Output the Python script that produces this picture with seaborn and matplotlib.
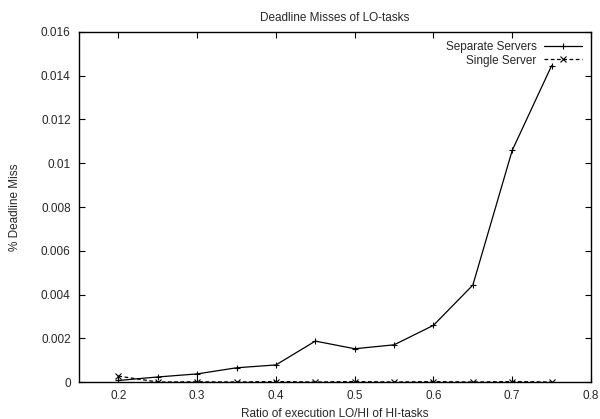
"""Deadline misses of LO-tasks: separate vs single server."""

import matplotlib

matplotlib.use("Agg")
import matplotlib.pyplot as plt
import pandas as pd
import seaborn as sns

# ── Data ────────────────────────────────────────────────────────────────────
ratios = [0.2, 0.25, 0.3, 0.35, 0.4, 0.45, 0.5, 0.55, 0.6, 0.65, 0.7, 0.75]
separate_servers = [0.00007, 0.00023, 0.00037, 0.00065, 0.00078, 0.00187,
                    0.00152, 0.0017, 0.00259, 0.00443, 0.01059, 0.01446]
single_server = [0.00027, 0.0, 0.00001, 0.0, 0.00002, 0.0,
                 0.00002, 0.0, 0.00002, 0.0, 0.00002, 0.0]
series_names = ["Separate Servers", "Single Server"]
x_ticks = [0.2, 0.3, 0.4, 0.5, 0.6, 0.7, 0.8]
y_ticks = [0, 0.002, 0.004, 0.006, 0.008, 0.01, 0.012, 0.014, 0.016]
y_tick_labels = ["0", "0.002", "0.004", "0.006", "0.008", "0.01",
                 "0.012", "0.014", "0.016"]

df = pd.concat([
    pd.DataFrame({"ratio": ratios, "miss": separate_servers, "server": series_names[0]}),
    pd.DataFrame({"ratio": ratios, "miss": single_server, "server": series_names[1]}),
])

# ── Style ───────────────────────────────────────────────────────────────────
sns.set_theme(style="ticks")
plt.rcParams["font.family"] = ["Liberation Sans", "DejaVu Sans"]

fig, ax = plt.subplots(figsize=(6.0, 4.19), dpi=100)
fig.subplots_adjust(left=79 / 600, right=591 / 600, top=1 - 32 / 419, bottom=1 - 382 / 419)

sns.lineplot(
    data=df, x="ratio", y="miss", hue="server", style="server",
    palette=["black", "black"], markers=["+", "x"], dashes=[(None, None), (3, 2)],
    markersize=5, markeredgewidth=0.8, markeredgecolor="black",
    linewidth=0.9, ax=ax,
)

ax.set_xlim(0.15, 0.8)
ax.set_ylim(0, 0.016)
ax.set_xticks(x_ticks)
ax.set_xticklabels([f"{t:g}" for t in x_ticks])
ax.set_yticks(y_ticks)
ax.set_yticklabels(y_tick_labels)
ax.tick_params(axis="both", direction="in", labelsize=8.5, length=4, width=0.8,
               color="black", top=True, right=True, pad=6)
for spine in ax.spines.values():
    spine.set_visible(True)
    spine.set_color("black")
    spine.set_linewidth(1.0)

ax.set_xlabel("Ratio of execution LO/HI of HI-tasks", fontsize=8.5, labelpad=4)
ax.set_ylabel("% Deadline Miss", fontsize=8.5, labelpad=14)
ax.set_title("Deadline Misses of LO-tasks", fontsize=8.5, pad=8)

leg = ax.legend(
    loc="upper right", frameon=False, fontsize=8.5, markerfirst=False,
    handlelength=3.2, handletextpad=0.6, borderaxespad=0.4, labelspacing=0.1,
)
for handle in leg.legend_handles:
    handle.set_markeredgecolor("black")

fig.savefig("out.png", dpi=100)
